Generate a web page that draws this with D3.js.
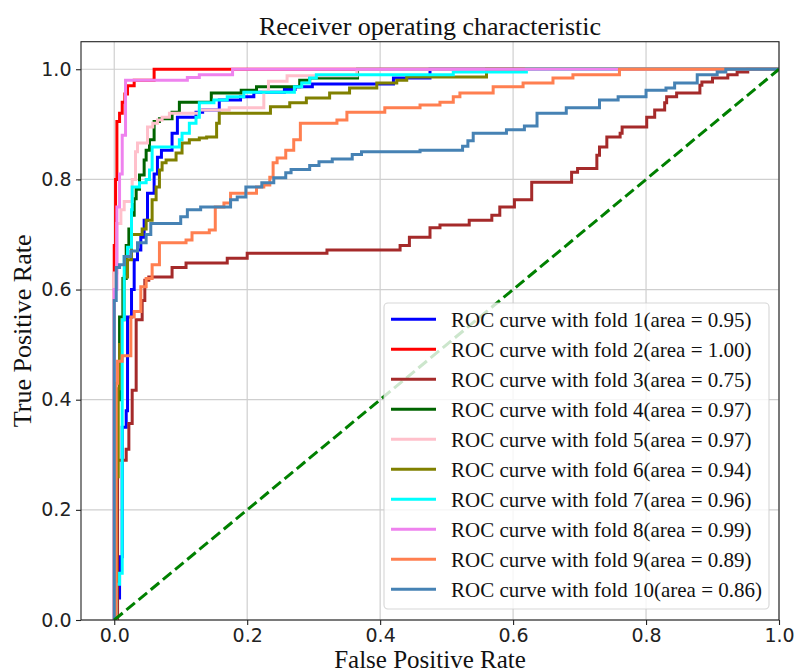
<!DOCTYPE html>
<html>
<head>
<meta charset="utf-8">
<script src="https://cdn.jsdelivr.net/npm/d3@7"></script>
<style>
  body { margin: 0; background: #fff; }
  svg { display: block; }
</style>
</head>
<body>
<div id="chart"></div>
<script>
// roc points, [fpr, tpr]
var fold1 = [[0,0],[0.003,0],[0.003,0.04],[0.008,0.04],[0.008,0.115],[0.012,0.115],[0.012,0.35],[0.018,0.35],[0.018,0.38],[0.02,0.38],[0.02,0.55],[0.026,0.55],[0.026,0.6],[0.03,0.6],[0.03,0.654],[0.035,0.654],[0.035,0.672],[0.04,0.672],[0.04,0.695],[0.045,0.695],[0.045,0.726],[0.05,0.726],[0.05,0.775],[0.06,0.775],[0.06,0.81],[0.065,0.81],[0.065,0.84],[0.071,0.84],[0.071,0.853],[0.087,0.853],[0.087,0.884],[0.095,0.884],[0.095,0.913],[0.123,0.913],[0.123,0.922],[0.133,0.922],[0.133,0.926],[0.158,0.926],[0.158,0.944],[0.19,0.944],[0.19,0.95],[0.21,0.95],[0.21,0.958],[0.256,0.958],[0.256,0.963],[0.272,0.963],[0.272,0.968],[0.298,0.968],[0.298,0.973],[0.42,0.973],[0.42,0.984],[0.475,0.984],[0.475,1],[1,1]];
var fold2 = [[0,0],[0,0.68],[0.002,0.68],[0.002,0.8],[0.004,0.8],[0.004,0.905],[0.008,0.905],[0.008,0.92],[0.012,0.92],[0.012,0.94],[0.016,0.94],[0.016,0.955],[0.02,0.955],[0.02,0.97],[0.03,0.97],[0.03,0.98],[0.06,0.98],[0.06,1],[1,1]];
var fold3 = [[0,0],[0.005,0],[0.005,0.29],[0.018,0.29],[0.018,0.31],[0.022,0.31],[0.022,0.357],[0.027,0.357],[0.027,0.417],[0.033,0.417],[0.033,0.545],[0.042,0.545],[0.042,0.58],[0.046,0.58],[0.046,0.617],[0.052,0.617],[0.052,0.623],[0.087,0.623],[0.087,0.64],[0.108,0.64],[0.108,0.648],[0.17,0.648],[0.17,0.657],[0.2,0.657],[0.2,0.666],[0.32,0.666],[0.32,0.672],[0.43,0.672],[0.43,0.68],[0.444,0.68],[0.444,0.695],[0.475,0.695],[0.475,0.712],[0.49,0.712],[0.49,0.717],[0.534,0.717],[0.534,0.726],[0.568,0.726],[0.568,0.735],[0.58,0.735],[0.58,0.75],[0.602,0.75],[0.602,0.763],[0.628,0.763],[0.628,0.795],[0.688,0.795],[0.688,0.813],[0.697,0.813],[0.697,0.82],[0.726,0.82],[0.726,0.844],[0.73,0.844],[0.73,0.859],[0.741,0.859],[0.741,0.877],[0.761,0.877],[0.761,0.884],[0.764,0.884],[0.764,0.895],[0.801,0.895],[0.801,0.913],[0.813,0.913],[0.813,0.926],[0.828,0.926],[0.828,0.939],[0.831,0.939],[0.831,0.95],[0.846,0.95],[0.846,0.957],[0.881,0.957],[0.881,0.971],[0.884,0.971],[0.884,0.977],[0.9,0.977],[0.9,0.984],[0.923,0.984],[0.923,0.99],[0.937,0.99],[0.937,0.995],[0.953,0.995],[0.953,1],[1,1]];
var fold4 = [[0,0],[0.003,0],[0.003,0.4],[0.008,0.4],[0.008,0.55],[0.013,0.55],[0.013,0.62],[0.018,0.62],[0.018,0.68],[0.022,0.68],[0.022,0.71],[0.026,0.71],[0.026,0.735],[0.03,0.735],[0.03,0.765],[0.033,0.765],[0.033,0.782],[0.038,0.782],[0.038,0.808],[0.045,0.808],[0.045,0.835],[0.048,0.835],[0.048,0.853],[0.053,0.853],[0.053,0.872],[0.06,0.872],[0.06,0.905],[0.068,0.905],[0.068,0.91],[0.087,0.91],[0.087,0.922],[0.098,0.922],[0.098,0.94],[0.146,0.94],[0.146,0.957],[0.191,0.957],[0.191,0.962],[0.214,0.962],[0.214,0.968],[0.279,0.968],[0.279,0.98],[0.294,0.98],[0.294,0.984],[0.366,0.984],[0.366,1],[1,1]];
var fold5 = [[0,0],[0,0.63],[0.004,0.63],[0.004,0.72],[0.01,0.72],[0.01,0.745],[0.015,0.745],[0.015,0.76],[0.027,0.76],[0.027,0.8],[0.032,0.8],[0.032,0.85],[0.035,0.85],[0.035,0.866],[0.05,0.866],[0.05,0.895],[0.058,0.895],[0.058,0.902],[0.065,0.902],[0.065,0.908],[0.072,0.908],[0.072,0.913],[0.083,0.913],[0.083,0.92],[0.128,0.92],[0.128,0.926],[0.173,0.926],[0.173,0.93],[0.225,0.93],[0.225,0.96],[0.232,0.96],[0.232,0.978],[0.26,0.978],[0.26,0.988],[0.365,0.988],[0.365,1],[1,1]];
var fold6 = [[0,0],[0.003,0],[0.003,0.26],[0.006,0.26],[0.006,0.42],[0.008,0.42],[0.008,0.5],[0.011,0.5],[0.011,0.545],[0.015,0.545],[0.015,0.623],[0.02,0.623],[0.02,0.654],[0.026,0.654],[0.026,0.7],[0.042,0.7],[0.042,0.71],[0.048,0.71],[0.048,0.726],[0.057,0.726],[0.057,0.763],[0.063,0.763],[0.063,0.786],[0.068,0.786],[0.068,0.817],[0.072,0.817],[0.072,0.83],[0.078,0.83],[0.078,0.835],[0.093,0.835],[0.093,0.848],[0.102,0.848],[0.102,0.866],[0.113,0.866],[0.113,0.872],[0.128,0.872],[0.128,0.875],[0.139,0.875],[0.139,0.877],[0.154,0.877],[0.154,0.902],[0.158,0.902],[0.158,0.92],[0.235,0.92],[0.235,0.932],[0.264,0.932],[0.264,0.939],[0.289,0.939],[0.289,0.948],[0.324,0.948],[0.324,0.957],[0.354,0.957],[0.354,0.966],[0.395,0.966],[0.395,0.975],[0.425,0.975],[0.425,0.98],[0.44,0.98],[0.44,0.986],[0.56,0.986],[0.56,1],[1,1]];
var fold7 = [[0,0],[0.003,0],[0.003,0.065],[0.008,0.065],[0.008,0.085],[0.012,0.085],[0.012,0.545],[0.015,0.545],[0.015,0.66],[0.02,0.66],[0.02,0.677],[0.026,0.677],[0.026,0.745],[0.027,0.745],[0.027,0.786],[0.038,0.786],[0.038,0.794],[0.048,0.794],[0.048,0.8],[0.053,0.8],[0.053,0.817],[0.057,0.817],[0.057,0.859],[0.098,0.859],[0.098,0.872],[0.102,0.872],[0.102,0.884],[0.113,0.884],[0.113,0.902],[0.123,0.902],[0.123,0.913],[0.128,0.913],[0.128,0.939],[0.15,0.939],[0.15,0.944],[0.17,0.944],[0.17,0.95],[0.195,0.95],[0.195,0.958],[0.271,0.958],[0.271,0.968],[0.282,0.968],[0.282,0.975],[0.294,0.975],[0.294,0.984],[0.304,0.984],[0.304,0.99],[0.51,0.99],[0.51,0.995],[0.62,0.995],[0.62,1],[1,1]];
var fold8 = [[0,0],[0,0.6],[0.004,0.6],[0.004,0.75],[0.008,0.75],[0.008,0.81],[0.012,0.81],[0.012,0.88],[0.017,0.88],[0.017,0.98],[0.11,0.98],[0.11,0.985],[0.128,0.985],[0.128,0.99],[0.178,0.99],[0.178,1],[1,1]];
var fold9 = [[0,0],[0.003,0],[0.003,0.43],[0.005,0.43],[0.005,0.47],[0.012,0.47],[0.012,0.48],[0.025,0.48],[0.025,0.55],[0.03,0.55],[0.03,0.56],[0.04,0.56],[0.04,0.605],[0.048,0.605],[0.048,0.62],[0.057,0.62],[0.057,0.645],[0.068,0.645],[0.068,0.685],[0.108,0.685],[0.108,0.69],[0.117,0.69],[0.117,0.703],[0.143,0.703],[0.143,0.708],[0.152,0.708],[0.152,0.75],[0.165,0.75],[0.165,0.757],[0.175,0.757],[0.175,0.775],[0.214,0.775],[0.214,0.786],[0.225,0.786],[0.225,0.79],[0.234,0.79],[0.234,0.804],[0.239,0.804],[0.239,0.83],[0.245,0.83],[0.245,0.839],[0.258,0.839],[0.258,0.853],[0.27,0.853],[0.27,0.872],[0.28,0.872],[0.28,0.902],[0.335,0.902],[0.335,0.908],[0.35,0.908],[0.35,0.922],[0.407,0.922],[0.407,0.93],[0.46,0.93],[0.46,0.935],[0.49,0.935],[0.49,0.94],[0.51,0.94],[0.51,0.95],[0.52,0.95],[0.52,0.957],[0.57,0.957],[0.57,0.968],[0.615,0.968],[0.615,0.975],[0.66,0.975],[0.66,0.984],[0.69,0.984],[0.69,0.99],[0.76,0.99],[0.76,1],[1,1]];
var fold10 = [[0,0],[0,0.58],[0.003,0.58],[0.003,0.64],[0.008,0.64],[0.008,0.645],[0.015,0.645],[0.015,0.66],[0.025,0.66],[0.025,0.67],[0.035,0.67],[0.035,0.685],[0.048,0.685],[0.048,0.7],[0.055,0.7],[0.055,0.72],[0.1,0.72],[0.1,0.732],[0.11,0.732],[0.11,0.745],[0.13,0.745],[0.13,0.75],[0.175,0.75],[0.175,0.763],[0.185,0.763],[0.185,0.768],[0.198,0.768],[0.198,0.786],[0.222,0.786],[0.222,0.794],[0.24,0.794],[0.24,0.803],[0.258,0.803],[0.258,0.812],[0.266,0.812],[0.266,0.818],[0.294,0.818],[0.294,0.825],[0.308,0.825],[0.308,0.832],[0.328,0.832],[0.328,0.837],[0.358,0.837],[0.358,0.845],[0.372,0.845],[0.372,0.85],[0.46,0.85],[0.46,0.853],[0.524,0.853],[0.524,0.86],[0.532,0.86],[0.532,0.87],[0.54,0.87],[0.54,0.884],[0.59,0.884],[0.59,0.89],[0.617,0.89],[0.617,0.897],[0.636,0.897],[0.636,0.92],[0.68,0.92],[0.68,0.93],[0.73,0.93],[0.73,0.944],[0.758,0.944],[0.758,0.95],[0.8,0.95],[0.8,0.962],[0.83,0.962],[0.83,0.966],[0.843,0.966],[0.843,0.975],[0.877,0.975],[0.877,0.99],[0.907,0.99],[0.907,0.995],[0.92,0.995],[0.92,1],[1,1]];

var folds = [fold1, fold2, fold3, fold4, fold5, fold6, fold7, fold8, fold9, fold10];
var foldNames = ["1", "2", "3", "4", "5", "6", "7", "8", "9", "10"];
var aucs = ["0.95", "1.00", "0.75", "0.97", "0.97", "0.94", "0.96", "0.99", "0.89", "0.86"];
var chance = [[0, 0], [1, 1]];
var tickVals = [0, 0.2, 0.4, 0.6, 0.8, 1.0];

var colors = ["blue", "red", "brown", "darkgreen", "pink", "olive", "cyan", "violet", "coral", "steelblue"];

var width = 798;
var height = 672;
// plot box (note: "top" is taken by window.top)
var plotLeft = 81, plotRight = 779, plotTop = 41.7, plotBottom = 620;
var lineW = 3;
var serif = "'Liberation Serif', 'Times New Roman', serif";
var sans = "'DejaVu Sans', sans-serif";

var svg = d3.select("#chart")
    .append("svg")
    .attr("width", width)
    .attr("height", height);

svg.append("rect").attr("width", width).attr("height", height).attr("fill", "#fff");

var xScale = d3.scaleLinear().domain([-0.05, 1.0]).range([plotLeft, plotRight]);
var yScale = d3.scaleLinear().domain([0, 1.05]).range([plotBottom, plotTop]);

// grid
var grid = svg.append("g").attr("class", "grid");
grid.selectAll("line.gx").data(tickVals).enter().append("line")
    .attr("x1", function(d) { return xScale(d); })
    .attr("x2", function(d) { return xScale(d); })
    .attr("y1", plotTop).attr("y2", plotBottom)
    .attr("stroke", "#cfcfcf").attr("stroke-width", 1.2);
grid.selectAll("line.gy").data(tickVals).enter().append("line")
    .attr("y1", function(d) { return yScale(d); })
    .attr("y2", function(d) { return yScale(d); })
    .attr("x1", plotLeft).attr("x2", plotRight)
    .attr("stroke", "#cfcfcf").attr("stroke-width", 1.2);

svg.append("clipPath").attr("id", "plotClip")
    .append("rect").attr("x", plotLeft).attr("y", plotTop)
    .attr("width", plotRight - plotLeft).attr("height", plotBottom - plotTop);

var line = d3.line()
    .x(function(d) { return xScale(d[0]); })
    .y(function(d) { return yScale(d[1]); });

var curves = svg.append("g").attr("clip-path", "url(#plotClip)");
folds.forEach(function(f, i) {
    curves.append("path")
        .attr("d", line(f))
        .attr("fill", "none")
        .attr("stroke", colors[i])
        .attr("stroke-width", lineW)
        .attr("stroke-linejoin", "miter");
});

curves.append("path")
    .attr("d", line(chance))
    .attr("fill", "none")
    .attr("stroke", "green")
    .attr("stroke-width", lineW)
    .attr("stroke-dasharray", "11,4.8");

// axes
var xAxis = d3.axisBottom(xScale).tickValues(tickVals).tickFormat(d3.format(".1f"))
    .tickSize(5).tickSizeOuter(0).tickPadding(4);
var yAxis = d3.axisLeft(yScale).tickValues(tickVals).tickFormat(d3.format(".1f"))
    .tickSize(5).tickSizeOuter(0).tickPadding(4.5);

var gx = svg.append("g").attr("transform", "translate(0," + plotBottom + ")").call(xAxis);
var gy = svg.append("g").attr("transform", "translate(" + plotLeft + ",0)").call(yAxis);
[gx, gy].forEach(function(g) {
    g.select(".domain").remove();
    g.selectAll(".tick line").attr("stroke", "#222").attr("stroke-width", 1.1);
    g.selectAll(".tick text")
        .attr("font-family", sans)
        .attr("font-size", 19)
        .attr("fill", "#222");
});

svg.append("rect")
    .attr("x", plotLeft).attr("y", plotTop)
    .attr("width", plotRight - plotLeft).attr("height", plotBottom - plotTop)
    .attr("fill", "none").attr("stroke", "#222").attr("stroke-width", 1.1);

// titles
svg.append("text")
    .attr("x", (plotLeft + plotRight) / 2).attr("y", 35)
    .attr("text-anchor", "middle")
    .attr("font-family", serif).attr("font-size", 26)
    .attr("fill", "#111")
    .text("Receiver operating characteristic");

svg.append("text")
    .attr("x", (plotLeft + plotRight) / 2).attr("y", 668)
    .attr("text-anchor", "middle")
    .attr("font-family", serif).attr("font-size", 25)
    .attr("fill", "#111")
    .text("False Positive Rate");

svg.append("text")
    .attr("transform", "translate(31," + ((plotTop + plotBottom) / 2) + ")rotate(-90)")
    .attr("text-anchor", "middle")
    .attr("font-family", serif).attr("font-size", 26)
    .attr("fill", "#111")
    .text("True Positive Rate");

// legend
var legX = 384, legY = 303, legW = 385, legH = 306, rowH = 30;
var legend = svg.append("g");
legend.append("rect")
    .attr("x", legX).attr("y", legY)
    .attr("width", legW).attr("height", legH)
    .attr("rx", 4).attr("ry", 4)
    .attr("fill", "rgba(255,255,255,0.8)")
    .attr("stroke", "rgba(204,204,204,0.8)")
    .attr("stroke-width", 1.1);

var rows = legend.selectAll("g.row").data(folds).enter().append("g")
    .attr("transform", function(d, i) { return "translate(0," + (legY + 16.3 + i * rowH) + ")"; });
rows.append("line")
    .attr("x1", 391).attr("x2", 436).attr("y1", 0).attr("y2", 0)
    .attr("stroke", function(d, i) { return colors[i]; })
    .attr("stroke-width", lineW);
rows.append("text")
    .attr("x", 451).attr("y", 7.5)
    .attr("font-family", serif).attr("font-size", 21)
    .attr("fill", "#111")
    .text(function(d, i) { return "ROC curve with fold " + foldNames[i] + "(area = " + aucs[i] + ")"; });
</script>
</body>
</html>
